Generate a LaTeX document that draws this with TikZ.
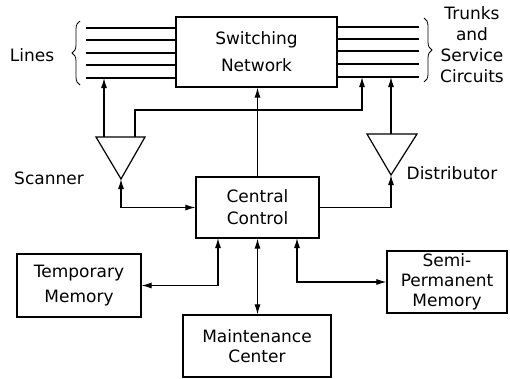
\documentclass[tikz,border=0pt]{standalone}
\usepackage{fontspec}
\setmainfont{DejaVu Sans}
\usetikzlibrary{arrows.meta,decorations.pathreplacing}
\newcommand\diagfont{\fontsize{17}{21}\selectfont}
\begin{document}
\begin{tikzpicture}[x=1pt,y=-1pt,
  box/.style={draw,line width=1.2pt,align=center,font=\diagfont,inner sep=0pt},
  ln/.style={line width=1.1pt},
  arr/.style={ln,-{Latex[length=10pt,width=6pt]}},
  biarr/.style={ln,{Latex[length=10pt,width=6pt]}-{Latex[length=10pt,width=6pt]}},
  lbl/.style={font=\diagfont,align=center,inner sep=0pt},
  brc/.style={line width=0.8pt,decorate,decoration={brace,amplitude=8pt}}]
\useasboundingbox (0,0) rectangle (510,378);
\clip (0,0) rectangle (510,378);

% boxes
\node[box,minimum width=161pt,minimum height=70pt] (sw) at (256.5,52) {Switching\\[6pt]Network};
\node[box,minimum width=123pt,minimum height=61pt] (cc) at (257.5,207.5) {Central\\[1pt]Control};
\node[box,minimum width=124pt,minimum height=63pt] (tm) at (79,285.5) {Temporary\\[4pt]Memory};
\node[box,minimum width=120pt,minimum height=62pt,font=\fontsize{17}{20}\selectfont] (spm) at (447,282) {Semi-\\Permanent\\Memory};
\node[box,minimum width=148pt,minimum height=62pt,font=\fontsize{17}{20}\selectfont] (mc) at (257,346) {Maintenance\\Center};

% labels
\node[lbl] (lines) at (32,55) {Lines};
\node[lbl] (trunks) at (472,45) {Trunks\\and\\Service\\Circuits};
\node[lbl] (scn) at (49,178) {Scanner};
\node[lbl] (dst) at (452,173) {Distributor};

% lines and trunks
\foreach \y [count=\i] in {28,40,53,65,78} {
  \coordinate (l\i) at (86,\y);
  \draw[ln] (l\i) -- (l\i -| sw.west);
}
\foreach \y [count=\i] in {27,39,51,64,77} {
  \coordinate (r\i) at (419,\y);
  \draw[ln] (r\i -| sw.east) -- (r\i);
}
\draw[brc] (80,85) -- (80,21);
\draw[brc] (424,18) -- (424,82);

% scanner
\coordinate (s1) at (96,137);
\coordinate (s2) at (145,137);
\coordinate (st) at (121,179);
\coordinate (sa) at (104,137);
\coordinate (sb) at (135,137);
\coordinate (fb) at (362,110);
\draw[line width=1.2pt] (s1) -- (s2) -- (st) -- cycle;
\draw[arr] (sa) -- (sa |- l5);
\draw[arr] (sb) |- (fb) -- (fb |- r5);
\draw[biarr] (st) |- (cc.west);

% distributor
\coordinate (d1) at (367,134);
\coordinate (d2) at (417,134);
\coordinate (dt) at (391,175);
\coordinate (dtop) at (391,134);
\draw[line width=1.2pt] (d1) -- (d2) -- (dt) -- cycle;
\draw[arr] (dtop) -- (dtop |- r5);
\draw[arr] (cc.east) -| (dt);

% central control connections
\draw[arr] (cc.north) -- (cc.north |- sw.south);
\coordinate (c1) at (218,238);
\coordinate (c3) at (297,238);
\draw[biarr] (c1) |- (tm.east);
\draw[biarr] (c3) |- (spm.west);
\draw[biarr] (cc.south) -- (cc.south |- mc.north);
\end{tikzpicture}
\end{document}
